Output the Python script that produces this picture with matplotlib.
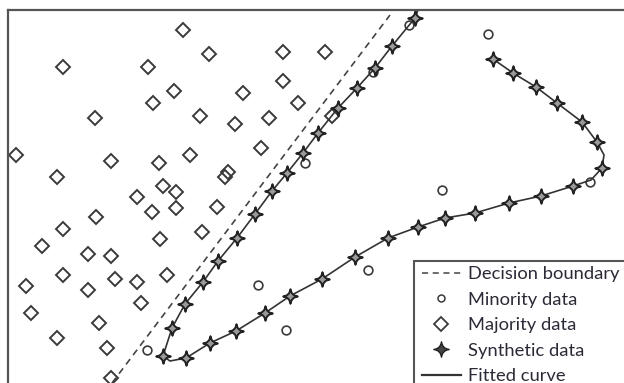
import matplotlib
matplotlib.use("Agg")
import matplotlib.pyplot as plt
from matplotlib.path import Path
from matplotlib.lines import Line2D
from matplotlib.patches import Rectangle

# data (pixel-like units, y grows downwards)
maj_x = [183, 209, 283, 325, 63, 148, 174, 243, 283, 153, 298, 95, 200, 235, 269, 332,
         16, 190, 261, 111, 159, 57, 228, 225, 163, 176, 137, 152, 176, 217, 96, 63,
         202, 42, 160, 88, 111, 63, 167, 26, 115, 137, 88, 31, 141, 57, 99, 107, 111]
maj_y = [30, 54, 52, 52, 67, 67, 91, 93, 81, 103, 103, 118, 116, 124, 118, 116,
         155, 155, 148, 161, 163, 177, 172, 177, 186, 192, 197, 212, 208, 207, 217, 229,
         232, 246, 239, 254, 256, 275, 275, 286, 279, 282, 290, 313, 303, 338, 323, 348, 378]

min_x = [409, 373, 305, 442, 488, 590, 368, 258, 286, 147]
min_y = [25, 72, 163, 190, 34, 182, 270, 285, 330, 350]

syn_x = [415, 392, 375, 357, 338, 318, 303, 287, 272, 255, 237, 218, 203, 185, 172, 163,
         186, 210, 236, 265, 290, 322, 355, 388, 418, 445, 475, 509, 541, 573, 602,
         597, 582, 557, 536, 513, 493]
syn_y = [18, 46, 68, 88, 108, 133, 153, 173, 191, 214, 238, 261, 282, 304, 328, 356,
         358, 343, 331, 313, 296, 279, 257, 238, 227, 218, 213, 203, 196, 186, 168,
         142, 122, 103, 87, 73, 59]

# fitted curve: the synthetic points plus the bends seen in the picture
curve_x = [418] + syn_x[:16] + [170] + syn_x[16:30] + [591] + syn_x[30:31] + [604] + syn_x[31:]
curve_y = [10] + syn_y[:16] + [361] + syn_y[16:30] + [180] + syn_y[30:31] + [155] + syn_y[31:]

boundary_x = [112, 390]
boundary_y = [383, 15]

labels = ["Decision boundary", "Minority data", "Majority data",
          "Synthetic data", "Fitted curve"]

# four pointed sparkle marker
c = 0.12
star = Path([(0, 1), (c, c), (1, 0), (c, -c), (0, -1), (-c, -c), (-1, 0), (-c, c), (0, 1), (0, 1)],
            [Path.MOVETO] + [Path.CURVE3] * 8 + [Path.CLOSEPOLY])

ink = "#333333"

fig = plt.figure(figsize=(6.24, 3.83), dpi=100)
ax = fig.add_axes([8 / 624, 0, 1, 373 / 383])
ax.set_xlim(8, 632)
ax.set_ylim(383, 10)
ax.set_xticks([])
ax.set_yticks([])
for s in ["right", "bottom"]:
    ax.spines[s].set_visible(False)
for s in ["left", "top"]:
    ax.spines[s].set_linewidth(1.6)
    ax.spines[s].set_color("#555555")

ax.plot(boundary_x, boundary_y, color="#444444", lw=1.2, ls=(0, (4, 3)))
ax.plot(maj_x, maj_y, ls="none", marker="D", ms=7.3, mfc="none", mec="#3a3a3a", mew=1.4)
ax.plot(min_x, min_y, ls="none", marker="o", ms=6.3, mfc="none", mec="#3a3a3a", mew=1.2)
ax.plot(curve_x, curve_y, color=ink, lw=1.2)
ax.plot(syn_x, syn_y, ls="none", marker=star, ms=10.5, mfc="#9a9a9a", mec="#222222", mew=1.4)

# legend frame running off the figure
ax.add_patch(Rectangle((414, 261), 300, 200, fc="white", ec="#555555", lw=1.5, zorder=5))

handles = [
    Line2D([], [], color="#444444", lw=1.1, ls=(0, (4, 3))),
    Line2D([], [], ls="none", marker="o", ms=5, mfc="none", mec="#3a3a3a", mew=1.1),
    Line2D([], [], ls="none", marker="D", ms=7.3, mfc="none", mec="#3a3a3a", mew=1.3),
    Line2D([], [], ls="none", marker=star, ms=11, mfc="#444444", mec="#222222", mew=1),
    Line2D([], [], color=ink, lw=1.6),
]
leg = ax.legend(handles, labels, loc="upper left", bbox_to_anchor=(422, 266),
                bbox_transform=ax.transData, frameon=False, borderpad=0, borderaxespad=0,
                handlelength=2.1, handletextpad=0.4, labelspacing=0.52,
                prop={"family": "Lato", "size": 13.2})
leg.set_zorder(6)
for t in leg.get_texts():
    t.set_color("#2b2b38")

fig.savefig("out.png", dpi=100)
